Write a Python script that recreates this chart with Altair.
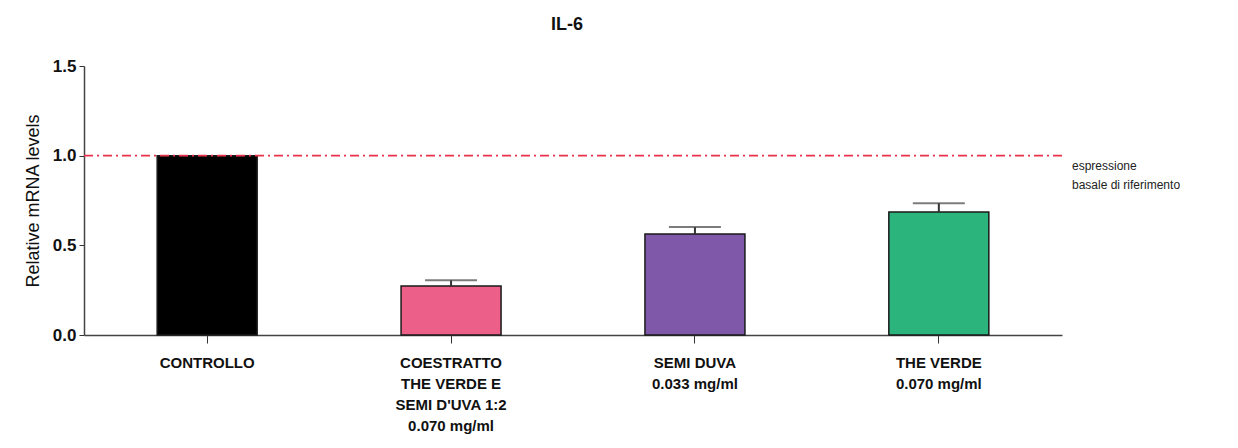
import altair as alt
import pandas as pd

categories = ["CONTROLLO",
              "COESTRATTO|THE VERDE E|SEMI D'UVA 1:2|0.070 mg/ml",
              "SEMI DUVA|0.033 mg/ml",
              "THE VERDE|0.070 mg/ml"]
values = [1.0, 0.273, 0.563, 0.686]
upper = [1.0, 0.305, 0.602, 0.735]
colors = ["#000000", "#ec5f88", "#7f58a9", "#2bb47b"]
reference_level = [1.0]
reference_label = ["espressione", "basale di riferimento"]

df = pd.DataFrame({"cat": categories, "val": values, "up": upper, "col": colors})
err_df = df[df["up"] > df["val"]]

W, H = 978, 269

xenc = alt.X("cat:N", sort=categories,
             scale=alt.Scale(paddingInner=0.59, paddingOuter=0.3),
             axis=alt.Axis(title=None, labelAngle=0, labelExpr="split(datum.label, '|')",
                           labelFont="Liberation Sans", labelFontWeight="bold", labelFontSize=15,
                           labelColor="#111", labelLineHeight=21, labelPadding=12,
                           tickSize=8, tickColor="#333", domainColor="#444", domainWidth=1.5,
                           labelBaseline="top"))
yscale = alt.Scale(domain=[0, 1.5])

bars = alt.Chart(df).mark_bar(stroke="#1a1a1a", strokeWidth=1.5).encode(
    x=xenc,
    y=alt.Y("val:Q", scale=yscale,
            axis=alt.Axis(title="Relative mRNA levels", values=[0, 0.5, 1.0, 1.5], format=".1f",
                          labelFont="Liberation Sans", labelFontSize=17, labelFontWeight="bold",
                          labelColor="#111", titleFont="Liberation Sans", titleFontSize=18,
                          titleFontWeight="normal", titleColor="#111", titlePadding=10,
                          tickSize=5, tickColor="#333", domainColor="#444", domainWidth=1.5,
                          grid=False, labelPadding=3)),
    color=alt.Color("col:N", scale=None),
)

stems = alt.Chart(err_df).mark_rule(color="#333", strokeWidth=2).encode(
    x=alt.X("cat:N", sort=categories), y=alt.Y("val:Q", scale=yscale), y2="up:Q")
caps = alt.Chart(err_df).mark_tick(color="#444", thickness=2, size=52).encode(
    x=alt.X("cat:N", sort=categories), y=alt.Y("up:Q", scale=yscale))

ref_df = pd.DataFrame({"level": reference_level})
ref = alt.Chart(ref_df).mark_rule(color="#e8334a", strokeWidth=1.6, strokeDash=[9, 4, 2, 4]).encode(
    y=alt.Y("level:Q", scale=yscale))

lab_df = pd.DataFrame({"level": reference_level, "txt": [reference_label]})
ref_text = alt.Chart(lab_df).mark_text(align="left", baseline="top", dx=0, dy=5,
                                      font="Liberation Sans", fontSize=12, color="#222",
                                      lineHeight=19).encode(
    x=alt.value(W + 10), y=alt.Y("level:Q", scale=yscale), text="txt")

chart = alt.layer(bars, stems, caps, ref, ref_text).properties(
    width=W, height=H, background="white",
    title=alt.TitleParams("IL-6", font="Liberation Sans", fontSize=18, fontWeight="bold",
                          color="#111", offset=23, anchor="middle", dx=-6),
    padding={"left": 16, "top": 8, "right": 5, "bottom": 5},
).configure_view(stroke="transparent", strokeWidth=0)

chart.save("out.html", embed_options={"renderer": "svg", "actions": False})
